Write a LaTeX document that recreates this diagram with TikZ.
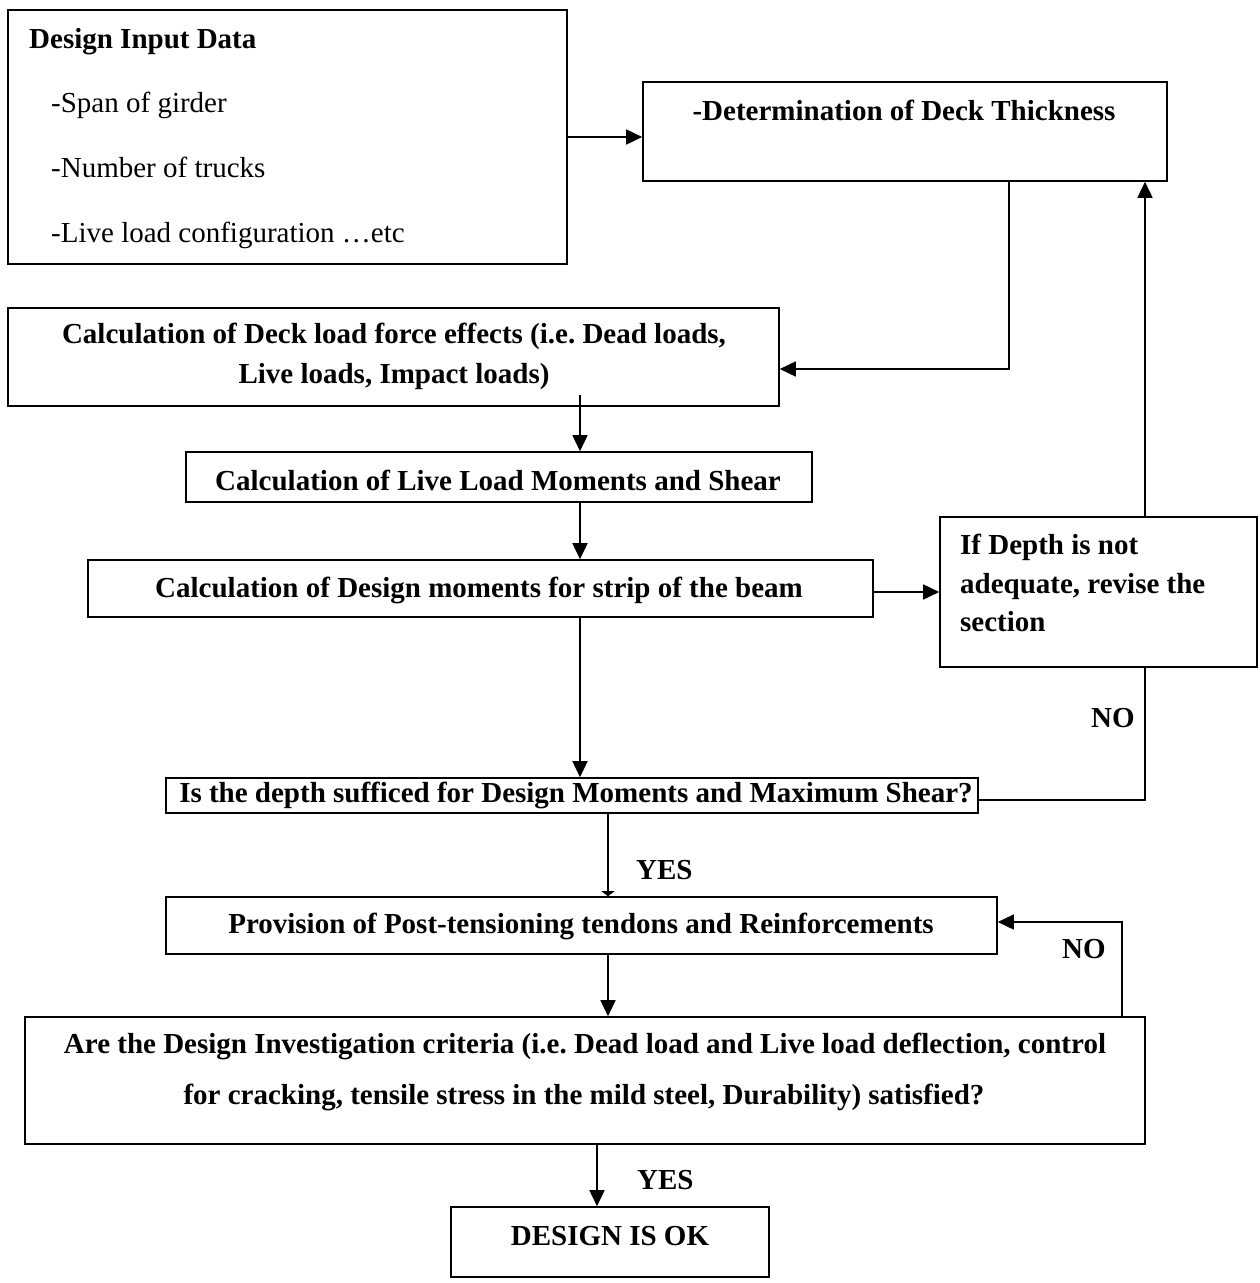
\documentclass[tikz,border=0pt]{standalone}
\usepackage{fontspec}
\setmainfont{Liberation Serif}
\usetikzlibrary{arrows.meta}
\frenchspacing
\begin{document}
\begin{tikzpicture}[x=1pt,y=-1pt,
  box/.style={draw, line width=1.6pt, inner sep=0pt},
  txt/.style={font=\fontsize{29}{35}\selectfont\bfseries, inner sep=0pt, anchor=base},
  txtl/.style={txt, anchor=base west},
  reg/.style={font=\fontsize{29}{35}\selectfont, inner sep=0pt, anchor=base west},
  conn/.style={line width=1.6pt},
  arr/.style={conn, -{Triangle[length=16pt,width=15pt]}},
  arrsmall/.style={conn, -{Triangle[length=5pt,width=13pt]}},
]
\useasboundingbox (0,0) rectangle (1259,1283);

% boxes
\node[box, minimum width=559pt, minimum height=254pt] (b1) at (287.5,137) {};
\node[box, minimum width=524pt, minimum height=99pt] (b2) at (905,131.5) {};
\node[box, minimum width=771pt, minimum height=98pt] (b3) at (393.5,357) {};
\node[box, minimum width=626pt, minimum height=50pt] (b4) at (499,477) {};
\node[box, minimum width=785pt, minimum height=57pt] (b5) at (480.5,588.5) {};
\node[box, minimum width=317pt, minimum height=150pt] (b9) at (1098.5,592) {};
\node[box, minimum width=812pt, minimum height=35pt] (b6) at (572,795.5) {};
\node[box, minimum width=831pt, minimum height=57pt] (b7) at (581.5,925.5) {};
\node[box, minimum width=1120pt, minimum height=127pt] (b8) at (585,1080.5) {};
\node[box, minimum width=318pt, minimum height=70pt] (b10) at (610,1242) {};

% texts
\node[txtl] (t1a) at (29,48) {Design Input Data};
\node[reg] (t1b) at (51,112) {-Span of girder};
\node[reg] (t1c) at (51,177) {-Number of trucks};
\node[reg] (t1d) at (51,242) {-Live load configuration …etc};
\node[txt] (t2) at (904,120) {-Determination of Deck Thickness};
\node[txt] (t3a) at (394,343) {Calculation of Deck load force effects (i.e. Dead loads,};
\node[txt] (t3b) at (394,383) {Live loads, Impact loads)};
\node[txt] (t4) at (498,490) {Calculation of Live Load Moments and Shear};
\node[txt] (t5) at (479,597) {Calculation of Design moments for strip of the beam};
\node[txtl] (t9a) at (960,554) {If Depth is not};
\node[txtl] (t9b) at (960,593) {adequate, revise the};
\node[txtl] (t9c) at (960,631) {section};
\node[txt] (t6) at (576,802) {Is the depth sufficed for Design Moments and Maximum Shear?};
\node[txt] (t7) at (581,933) {Provision of Post-tensioning tendons and Reinforcements};
\node[txt] (t8a) at (585,1053) {Are the Design Investigation criteria (i.e. Dead load and Live load deflection, control};
\node[txt] (t8b) at (584,1104) {for cracking, tensile stress in the mild steel, Durability) satisfied?};
\node[txt] (t10) at (610,1245) {DESIGN IS OK};

% labels
\node[txtl] (yes1) at (636,879) {YES};
\node[txtl] (yes2) at (637,1189) {YES};
\node[txtl] (no1) at (1091,727) {NO};
\node[txtl] (no2) at (1062,958) {NO};

% connectors
\draw[arr] (b1.east) -- (b1.east -| b2.west);
\draw[arr] ([xshift=104pt]b2.south) |- ([yshift=-12pt]b3.east);
\draw[arr] ([xshift=46.5pt]b9.north) -- ([xshift=46.5pt]b9.north |- b2.south);
\draw[arr] ([xshift=81pt]b4.north |- b3.south) ++(0,-12) -- ([xshift=81pt]b4.north);
\draw[arr] ([xshift=81pt]b4.south) -- ([xshift=81pt]b4.south |- b5.north);
\draw[arr] (b5.east |- b9.west) -- (b9.west);
\draw[arr] ([xshift=99.5pt]b5.south) -- ([xshift=99.5pt]b5.south |- b6.north);
\draw[conn] ([yshift=-4.5pt]b6.east) -| ([xshift=46.5pt]b9.south);
\draw[arrsmall] ([xshift=36pt]b6.south) -- ([xshift=36pt]b6.south |- b7.north);
\draw[arr] ([xshift=26.5pt]b7.south) -- ([xshift=26.5pt]b7.south |- b8.north);
\draw[arr] ([xshift=537pt]b8.north) |- ([yshift=3.5pt]b7.east);
\draw[arr] ([xshift=12pt]b8.south) -- ([xshift=12pt]b8.south |- b10.north);
\end{tikzpicture}
\end{document}
